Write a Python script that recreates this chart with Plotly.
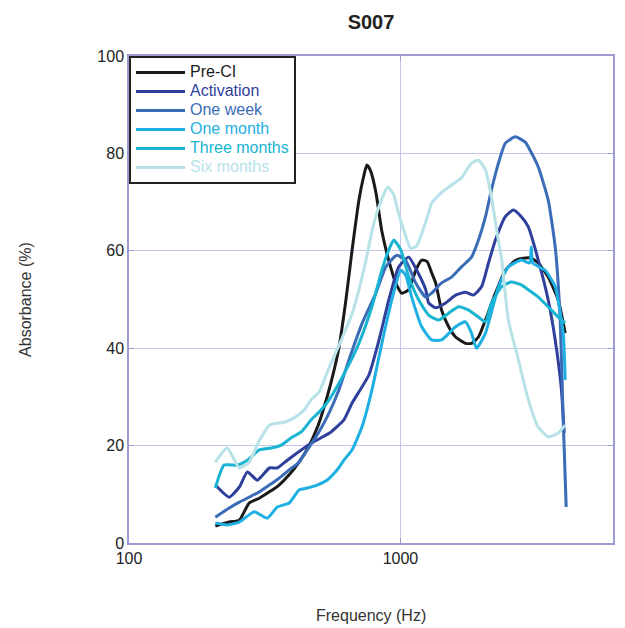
import plotly.graph_objects as go

# ---------------- data ----------------
pre_ci_f = [208, 234, 255, 277, 302, 329, 357, 389, 423, 461, 493, 514, 555, 593, 630, 663, 703,
            730, 752, 775, 812, 854, 906, 961, 1011, 1073, 1138, 1198, 1254, 1303, 1348, 1418, 1505,
            1596, 1737, 1827, 1938, 2057, 2238, 2435, 2651, 2884, 3034, 3219, 3502, 3812, 4045]
pre_ci_v = [3.5, 4.3, 4.7, 8.2, 9.2, 10.5, 11.9, 14, 16.6, 20, 23.6, 26.5, 33, 40, 50, 60, 70.4,
            75, 77.6, 76.5, 72, 64, 58, 53.4, 51.3, 52, 56, 58.1, 57.8, 55.5, 53.4, 47.8, 44.4,
            42.3, 41, 41, 42.3, 45.8, 51.3, 56, 58, 58.5, 58.5, 57.5, 54.6, 49.9, 43.1]

activation_f = [208, 234, 255, 273, 297, 329, 352, 383, 416, 469, 510, 555, 619, 663, 765, 832, 906,
                986, 1073, 1148, 1239, 1270, 1348, 1467, 1596, 1737, 1858, 1989, 2110, 2238, 2435,
                2606, 2789, 2958, 3219, 3502, 3716, 3910, 4011]
activation_v = [11.9, 9.4, 11.5, 14.6, 12.9, 15.4, 15.4, 17, 18.5, 20.5, 21.6, 22.8, 25.3, 28.7, 34.5,
                41.5, 49.9, 56.7, 58.7, 56, 52, 49.3, 48.3, 49.3, 50.9, 51.5, 50.9, 52.6, 57.5, 62.2,
                67, 68.4, 67, 64.9, 58.1, 49.9, 41.7, 32, 22.6]

one_week_f = [208, 234, 255, 277, 302, 329, 357, 389, 423, 461, 501, 546, 593, 646, 721, 812, 883,
              969, 1046, 1138, 1239, 1303, 1418, 1543, 1679, 1827, 1938, 2057, 2164, 2296, 2435,
              2651, 2884, 2958, 3219, 3502, 3716, 3877, 3977, 4079]
one_week_v = [5.3, 7.2, 8.4, 9.4, 10.5, 11.9, 13.3, 15, 16.6, 19.7, 22.8, 26.7, 31.4, 37.6, 45, 51.3,
              56.7, 59.1, 58, 53.4, 50.5, 51.3, 53.4, 54.6, 56.7, 58.7, 62.2, 67, 72.5, 78, 82.1,
              83.4, 82.3, 81.3, 77.2, 70.4, 60.8, 45.8, 25.3, 7.4]

one_month_f = [208, 230, 255, 289, 323, 352, 389, 423, 453, 493, 536, 584, 619, 663, 721, 785, 854,
               929, 1003, 1046, 1100, 1198, 1303, 1418, 1596, 1737, 1827, 1906, 2057, 2296, 2497,
               2789, 2990, 3034, 3070, 3415, 3716, 3977, 4045]
one_month_v = [4.1, 3.7, 4.3, 6.4, 5.1, 7.4, 8.2, 10.9, 11.3, 11.9, 12.9, 15, 17, 19.1, 23.8, 31.4, 41,
               49.9, 56, 55, 50.5, 44.4, 41.7, 41.7, 44.4, 45.4, 43.1, 40, 43.1, 52.6, 56.7, 58.1,
               57.5, 60.8, 57.5, 56, 52.6, 43.1, 33.5]

three_months_f = [208, 224, 251, 273, 302, 334, 364, 396, 431, 469, 510, 546, 630, 703, 785, 854, 906,
                  945, 1003, 1073, 1168, 1270, 1382, 1505, 1637, 1781, 1938, 2057, 2164, 2355, 2561,
                  2789, 2958, 3219, 3502, 3812, 4045]
three_months_v = [11.3, 16, 16, 17, 19.1, 19.5, 20.1, 21.6, 22.8, 25.3, 27.3, 29.4, 35.5, 41, 48.5,
                  56, 60.2, 62.2, 60.2, 54.6, 49.9, 46.8, 45.8, 47.2, 48.5, 47.8, 46.4, 45.4, 49.3,
                  52.6, 53.6, 53, 52, 50.5, 48.5, 46.4, 45.2]

six_months_f = [208, 230, 255, 277, 302, 329, 373, 406, 442, 469, 501, 546, 609, 663, 703, 746, 785,
                832, 898, 945, 986, 1046, 1090, 1148, 1198, 1270, 1303, 1418, 1543, 1679, 1827, 1938,
                2057, 2164, 2296, 2355, 2497, 2720, 2958, 3219, 3502, 3812, 4045]
six_months_v = [16.6, 19.5, 15.4, 16.6, 21, 24.2, 24.8, 25.7, 27.3, 29.4, 31, 36, 42, 47, 52, 58, 64,
                69, 73.1, 71.5, 67.5, 63, 60.5, 61, 63.5, 67.8, 69.8, 72, 73.5, 75, 78, 78.6,
                76.6, 71, 62, 58.7, 45.8, 37.6, 29.4, 23.8, 21.8, 22.6, 24.2]

series_names = ["Pre-CI", "Activation", "One week", "One month", "Three months", "Six months"]
series_f = [pre_ci_f, activation_f, one_week_f, one_month_f, three_months_f, six_months_f]
series_v = [pre_ci_v, activation_v, one_week_v, one_month_v, three_months_v, six_months_v]
series_colors = ["#1a1a1a", "#2f3f9c", "#3a6cb8", "#1eb0e2", "#18b4d2", "#b6e2e8"]

x_tickvals = [100, 1000]
x_ticktext = ["100", "1000"]
y_tickvals = [0, 20, 40, 60, 80, 100]

# ---------------- figure ----------------
fig = go.Figure()
for name, f, v, c in zip(series_names, series_f, series_v, series_colors):
    fig.add_trace(go.Scatter(
        x=f, y=v, mode="lines",
        name=f"<span style='color:{c};font-size:16px'>{name}</span>",
        line=dict(color=c, width=3, shape="spline", smoothing=0.5),
    ))

axis_col = "#9c9cd2"
grid_col = "#c6c6e8"
font_fam = "Arial, Liberation Sans, sans-serif"

fig.update_layout(
    width=625, height=628,
    margin=dict(l=129, r=10, t=56, b=85),
    paper_bgcolor="white", plot_bgcolor="white",
    font=dict(family=font_fam, color="#222222"),
    title=dict(text="<b>S007</b>", x=0.5, xref="paper", y=1 - 22 / 628, yref="container",
               xanchor="center", yanchor="middle", font=dict(size=20, color="#222222")),
    showlegend=True,
    legend=dict(x=0, y=1, xanchor="left", yanchor="top", bgcolor="white",
                bordercolor="#222222", borderwidth=2, font=dict(size=10.6),
                itemwidth=49, tracegroupgap=0),
    xaxis=dict(type="log", range=[2, 3.783], tickvals=x_tickvals, ticktext=x_ticktext,
               showgrid=True, gridcolor=grid_col, gridwidth=1,
               showline=True, linecolor=axis_col, linewidth=1.5, mirror="ticks",
               ticks="inside", ticklen=5, tickcolor=axis_col,
               tickfont=dict(size=16, color="#222222"), zeroline=False),
    yaxis=dict(range=[0, 100], tickvals=y_tickvals,
               showgrid=True, gridcolor=grid_col, gridwidth=1,
               showline=True, linecolor=axis_col, linewidth=1.5, mirror="ticks",
               ticks="inside", ticklen=5, tickcolor=axis_col,
               tickfont=dict(size=16, color="#222222"), zeroline=False),
    annotations=[
        dict(text="Absorbance (%)", xref="paper", yref="paper", x=(25 - 129) / 486, y=0.5,
             textangle=-90, showarrow=False, xanchor="center", yanchor="middle",
             font=dict(size=16, color="#333333")),
        dict(text="Frequency (Hz)", xref="paper", yref="paper", x=0.5, y=(543 - 615) / 487,
             showarrow=False, xanchor="center", yanchor="middle",
             font=dict(size=16, color="#333333")),
    ],
)

fig.write_html("out.html")
